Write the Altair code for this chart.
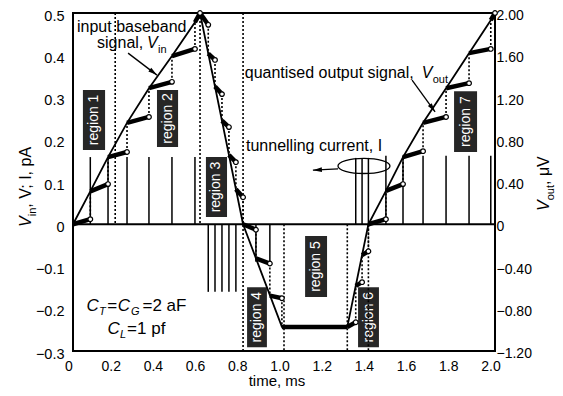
import math
import altair as alt
import pandas as pd

FONT = "Liberation Sans"
W, H = 422, 338

# ---------------- data ----------------
# input baseband signal V_in (time in ms, value on the left axis)
vin_t = [0.0, 0.082, 0.166, 0.256, 0.36, 0.469, 0.578, 0.602, 0.806, 0.99, 1.30,
         1.40, 1.483, 1.564, 1.659, 1.768, 1.877, 1.98, 2.0]
vin_v = [0.0, 0.078, 0.159, 0.240, 0.322, 0.398, 0.478, 0.5, 0.0, -0.243, -0.243,
         0.0, 0.079, 0.159, 0.240, 0.322, 0.405, 0.483, 0.5]

# quantised output signal V_out: thick segments (start -> end marker)
q_t0 = [0.0, 0.082, 0.166, 0.256, 0.36, 0.469, 0.578, 0.602, 0.641, 0.673, 0.706, 0.739,
        0.772, 0.806, 0.867, 0.933, 0.99, 1.30, 1.34, 1.37, 1.40, 1.483, 1.564, 1.659,
        1.768, 1.877, 1.98]
q_v0 = [0.0, 0.078, 0.159, 0.240, 0.322, 0.398, 0.478, 0.5, 0.404, 0.326, 0.245, 0.164,
        0.083, 0.0, -0.081, -0.169, -0.243, -0.243, -0.146, -0.073, 0.0, 0.079, 0.159, 0.240,
        0.322, 0.405, 0.483]
q_t1 = [0.082, 0.166, 0.256, 0.36, 0.469, 0.578, 0.602, 0.641, 0.673, 0.706, 0.739, 0.772,
        0.806, 0.867, 0.933, 0.99, 1.30, 1.34, 1.37, 1.40, 1.483, 1.564, 1.659, 1.768,
        1.877, 1.98, 2.0]
q_v1 = [0.012, 0.095, 0.171, 0.254, 0.337, 0.415, 0.5, 0.472, 0.389, 0.308, 0.230, 0.147,
        0.064, -0.013, -0.093, -0.175, -0.243, -0.232, -0.137, -0.064, 0.012, 0.095, 0.173,
        0.254, 0.334, 0.415, 0.5]
q_mark = [1, 1, 1, 1, 1, 1, 1, 1, 1, 1, 1, 1, 1, 1, 1, 1, 0, 1, 1, 1, 1, 1, 1, 1, 1, 1, 1]

# tunnelling current spikes (pA)
spike_t = [0.082, 0.166, 0.256, 0.36, 0.469, 0.578, 0.641, 0.673, 0.706, 0.739, 0.772,
           0.867, 0.933, 1.34, 1.37, 1.40, 1.483, 1.564, 1.659, 1.768, 1.877, 1.98]
spike_i = [0.159, 0.159, 0.159, 0.159, 0.159, 0.159, -0.16, -0.16, -0.16, -0.16, -0.16,
           -0.089, -0.089, 0.157, 0.157, 0.157, 0.162, 0.162, 0.162, 0.162, 0.162, 0.162]

# region boundaries (dotted)
bound_t = [0.2, 0.602, 0.806, 1.0, 1.30, 1.40]
bound_top = [0.5, 0.5, 0.5, 0.0, 0.0, 0.0]
bound_bot = [0.0, 0.0, -0.3, -0.3, -0.3, -0.3]

# region labels
region_name = ["region 1", "region 2", "region 3", "region 4", "region 5", "region 6", "region 7"]
region_t0 = [0.047, 0.398, 0.630, 0.825, 1.100, 1.351, 1.806]
region_t1 = [0.152, 0.498, 0.730, 0.919, 1.204, 1.450, 1.915]
region_top = [0.318, 0.318, 0.159, -0.149, -0.028, -0.149, 0.315]
region_bot = [0.176, 0.183, 0.017, -0.291, -0.172, -0.291, 0.171]

x_ticks = [0, 0.2, 0.4, 0.6, 0.8, 1.0, 1.2, 1.4, 1.6, 1.8, 2.0]
x_labels = ["0", "0.2", "0.4", "0.6", "0.8", "1.0", "1.2", "1.4", "1.6", "1.8", "2.0"]
left_ticks = [-0.3, -0.2, -0.1, 0, 0.1, 0.2, 0.3, 0.4, 0.5]
right_ticks = [-1.2, -0.8, -0.4, 0, 0.4, 0.8, 1.2, 1.6, 2.0]   # V_out, uV (= 4 x left axis)
RIGHT_PER_LEFT = 4.0

# ---------------- tables ----------------
vin_df = pd.DataFrame({"t": vin_t, "v": vin_v})
seg_df = pd.DataFrame({"t0": q_t0, "v0": q_v0, "t1": q_t1, "v1": q_v1, "m": q_mark})
circ_df = seg_df[seg_df["m"] == 1]
step_df = pd.DataFrame({"t": q_t1[:-1], "va": q_v1[:-1], "vb": q_v0[1:]})
spike_df = pd.DataFrame({"t": spike_t, "i": spike_i, "z": [0.0] * len(spike_t)})
bound_df = pd.DataFrame({"t": bound_t, "top": bound_top, "bot": bound_bot})
reg_df = pd.DataFrame({"name": region_name, "t0": region_t0, "t1": region_t1,
                       "top": region_top, "bot": region_bot})
reg_df["tc"] = (reg_df["t0"] + reg_df["t1"]) / 2
reg_df["vc"] = (reg_df["top"] + reg_df["bot"]) / 2
right_df = pd.DataFrame({"r": right_ticks})
right_df["v"] = right_df["r"] / RIGHT_PER_LEFT
xlab_df = pd.DataFrame({"t": x_ticks, "lab": x_labels})

xsc = alt.Scale(domain=[0, 2], nice=False, zero=False)
ysc = alt.Scale(domain=[-0.3, 0.5], nice=False, zero=False)


def X(f):
    return alt.X(f, type="quantitative", scale=xsc, axis=None)


def Y(f):
    return alt.Y(f, type="quantitative", scale=ysc, axis=None)


y_axis = alt.Axis(values=left_ticks, labelExpr="datum.value == 0 ? '0' : format(datum.value, '.1f')",
                  orient="left", ticks=False, domain=False, grid=False, labelFont=FONT,
                  labelFontSize=14.5, labelColor="black", labelPadding=9, labelOffset=3,
                  labelFlush=False, title=None)
r_axis = alt.Axis(values=list(right_df["v"]),
                  labelExpr="datum.value == 0 ? '0' : format(datum.value * 4, '.2f')",
                  orient="right", ticks=False, domain=False, grid=False, labelFont=FONT,
                  labelFontSize=14, labelColor="black", labelPadding=1, labelOffset=2.5,
                  labelFlush=False, title=None)

layers = []

# axis carriers (left and right value axes)
layers.append(alt.Chart(pd.DataFrame({"v": left_ticks})).mark_point(opacity=0).encode(
    y=alt.Y("v:Q", scale=ysc, axis=y_axis), x=alt.value(0)))
layers.append(alt.Chart(right_df).mark_point(opacity=0).encode(
    y=alt.Y("v:Q", scale=ysc, axis=r_axis), x=alt.value(W)))

# time axis labels and title
layers.append(alt.Chart(xlab_df).mark_text(font=FONT, fontSize=14, color="black", align="center",
                                           baseline="middle", dx=-4).encode(
    x=X("t"), y=alt.value(H + 16), text="lab:N"))
layers.append(alt.Chart(pd.DataFrame({"a": [0]})).mark_text(
    text="time, ms", font=FONT, fontSize=15, color="black", align="center",
    baseline="alphabetic").encode(x=alt.value(204), y=alt.value(H + 35)))

# region label boxes
layers.append(alt.Chart(reg_df).mark_rect(color="#262626").encode(
    x=X("t0"), x2="t1", y=Y("top"), y2="bot"))
layers.append(alt.Chart(reg_df).mark_text(color="white", angle=270, font=FONT, fontSize=14,
                                          align="center", baseline="middle").encode(
    x=X("tc"), y=Y("vc"), text="name:N"))

# zero line
layers.append(alt.Chart(pd.DataFrame({"v": [0.0]})).mark_rule(color="black", strokeWidth=2).encode(
    y=Y("v")))

# region boundaries
layers.append(alt.Chart(bound_df).mark_rule(color="black", strokeWidth=1.6, strokeDash=[2, 2]).encode(
    x=X("t"), y=Y("top"), y2="bot"))

# tunnelling current spikes
layers.append(alt.Chart(spike_df).mark_rule(color="black", strokeWidth=1.5).encode(
    x=X("t"), y=Y("z"), y2="i"))

# input signal
layers.append(alt.Chart(vin_df).mark_line(color="black", strokeWidth=1.8).encode(
    x=X("t"), y=Y("v")))

# quantised output: dotted jumps, thick segments, open markers
layers.append(alt.Chart(step_df).mark_rule(color="black", strokeWidth=1.6, strokeDash=[2, 2]).encode(
    x=X("t"), y=Y("va"), y2="vb"))
layers.append(alt.Chart(seg_df).mark_rule(color="black", strokeWidth=4.5, strokeCap="butt").encode(
    x=X("t0"), x2="t1", y=Y("v0"), y2="v1"))
layers.append(alt.Chart(circ_df).mark_point(shape="circle", filled=True, fill="white", stroke="black",
                                            strokeWidth=1.2, size=22, opacity=1).encode(
    x=X("t1"), y=Y("v1")))


# annotations
def piece(t, v, text, dx=0, dy=0, size=16, style="normal"):
    return alt.Chart(pd.DataFrame({"t": [t], "v": [v]})).mark_text(
        text=text, align="left", baseline="alphabetic", dx=dx, dy=dy, font=FONT,
        fontSize=size, fontStyle=style, color="black").encode(x=X("t"), y=Y("v"))


def rpiece(px, py, text, dx=0, dy=0, size=16, style="normal"):
    return alt.Chart(pd.DataFrame({"a": [0]})).mark_text(
        text=text, align="left", baseline="alphabetic", dx=dx, dy=dy, angle=270, font=FONT,
        fontSize=size, fontStyle=style, color="black").encode(x=alt.value(px), y=alt.value(py))


layers += [
    piece(0.019, 0.454, "input baseband"),
    piece(0.114, 0.416, "signal,"),
    piece(0.114, 0.416, "V", dx=50, style="italic"),
    piece(0.114, 0.416, "in", dx=61, dy=5, size=11),
    piece(0.814, 0.347, "quantised output signal,"),
    piece(0.814, 0.347, "V", dx=177, style="italic"),
    piece(0.814, 0.347, "out", dx=188, dy=5, size=11),
    piece(0.820, 0.174, "tunnelling current, I"),
    piece(0.064, -0.206, "C", size=17, style="italic"),
    piece(0.064, -0.206, "T", dx=12.5, dy=4, size=11, style="italic"),
    piece(0.064, -0.206, "=", dx=20.8, size=17),
    piece(0.064, -0.206, "C", dx=31.2, size=17, style="italic"),
    piece(0.064, -0.206, "G", dx=44.5, dy=4, size=11, style="italic"),
    piece(0.064, -0.206, "=2 aF", dx=56, size=17),
    piece(0.164, -0.259, "C", size=17, style="italic"),
    piece(0.164, -0.259, "L", dx=12.5, dy=4, size=11, style="italic"),
    piece(0.164, -0.259, "=1 pf", dx=19.5, size=17),
    rpiece(-42, 214, "V", style="italic"),
    rpiece(-42, 214, "in", dx=10.7, dy=5, size=11),
    rpiece(-42, 214, ", V; I, pA", dx=19.3),
    rpiece(476, 198, "V", style="italic"),
    rpiece(476, 198, "out", dx=10.7, dy=5, size=11),
    rpiece(476, 198, ", μV", dx=26),
]

# arrows
arrows = [
    (0.261, 0.405, 0.398, 0.353),
    (1.607, 0.341, 1.716, 0.266),
    (1.256, 0.131, 1.137, 0.128),
]
ARROW = "M0,0 L-0.8,3 L0.8,3 Z"
for (ta, va, tb, vb) in arrows:
    layers.append(alt.Chart(pd.DataFrame({"t0": [ta], "v0": [va], "t1": [tb], "v1": [vb]}))
                  .mark_rule(color="black", strokeWidth=1.3)
                  .encode(x=X("t0"), x2="t1", y=Y("v0"), y2="v1"))
    dxp = (tb - ta) * W / 2.0
    dyp = -(vb - va) * H / 0.8
    ang = math.degrees(math.atan2(dxp, -dyp)) % 360
    layers.append(alt.Chart(pd.DataFrame({"t": [tb], "v": [vb]}))
                  .mark_point(shape=ARROW, size=36, filled=True, color="black", opacity=1,
                              angle=ang)
                  .encode(x=X("t"), y=Y("v")))

# ellipse round the tunnelling-current spikes
ELLIPSE = "M-1,0 A1,0.29,0,1,1,1,0 A1,0.29,0,1,1,-1,0 Z"
layers.append(alt.Chart(pd.DataFrame({"t": [1.379], "v": [0.138]}))
              .mark_point(shape=ELLIPSE, size=2704, filled=False, color="black", strokeWidth=1.3,
                          opacity=1)
              .encode(x=X("t"), y=Y("v")))

chart = (alt.layer(*layers)
         .resolve_axis(y="independent")
         .properties(width=W, height=H, autosize=alt.AutoSizeParams(type="none"),
                     padding={"left": 65, "top": 5, "right": 60, "bottom": 37},
                     background="white")
         .configure_view(stroke="black", strokeWidth=2))

chart.save("out.html", embed_options={"renderer": "svg", "actions": False})
